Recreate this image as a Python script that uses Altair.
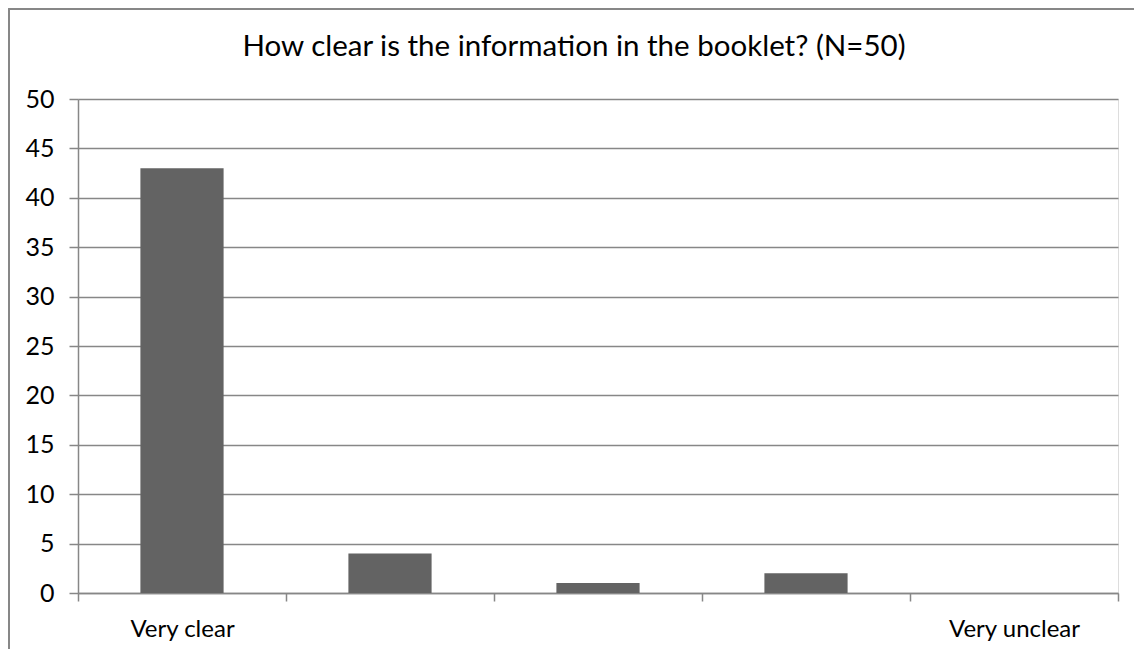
import altair as alt
import pandas as pd

categories = ["Very clear", "Clear", "Neutral", "Unclear", "Very unclear"]
counts = [43, 4, 1, 2, 0]
shown_labels = ["Very clear", "Very unclear"]
y_ticks = [0, 5, 10, 15, 20, 25, 30, 35, 40, 45, 50]
title_text = "How clear is the information in the booklet? (N=50)"

df = pd.DataFrame({"category": categories, "count": counts})

FONT = "Lato"
GRID = "#878787"

W, H = 1040, 494
PAD = {"left": 70, "top": 91, "right": 16, "bottom": 56}

label_expr = "indexof(" + str(shown_labels) + ", datum.label) >= 0 ? datum.label : ''"

bars = alt.Chart(df).mark_bar(
    color="#636363", width=alt.RelativeBandSize(0.4)
).encode(
    x=alt.X(
        "category:N",
        sort=categories,
        scale=alt.Scale(paddingInner=0, paddingOuter=0),
        axis=alt.Axis(
            title=None,
            labelAngle=0,
            labelExpr=label_expr,
            tickBand="extent",
            tickSize=8,
            tickColor=GRID,
            tickWidth=1.5,
            domainColor=GRID,
            domainWidth=1.5,
            labelFont=FONT,
            labelFontSize=24,
            labelColor="#000000",
            labelPadding=16,
            grid=False,
        ),
    ),
    y=alt.Y(
        "count:Q",
        scale=alt.Scale(domain=[0, 50], nice=False),
        axis=alt.Axis(
            title=None,
            values=y_ticks,
            grid=True,
            gridColor=GRID,
            gridWidth=1.5,
            tickSize=9,
            tickColor=GRID,
            tickWidth=1.5,
            domainColor=GRID,
            domainWidth=1.5,
            labelFont=FONT,
            labelFontSize=25,
            labelColor="#000000",
            labelPadding=15,
        ),
    ),
)

frame_top = alt.Chart(df).mark_rule(color=GRID, strokeWidth=2).encode(
    x=alt.value(-PAD["left"] + 0.5),
    x2=alt.value(W + PAD["right"]),
    y=alt.value(-PAD["top"] + 1),
)
frame_left = alt.Chart(df).mark_rule(color=GRID, strokeWidth=2).encode(
    x=alt.value(-PAD["left"] + 1),
    y=alt.value(-PAD["top"] + 1),
    y2=alt.value(H + PAD["bottom"]),
)

title = alt.Chart(pd.DataFrame({"t": [title_text]})).mark_text(
    font=FONT, fontSize=29.5, color="#000000", align="center", baseline="middle"
).encode(
    text="t:N",
    x=alt.value(496),
    y=alt.value(-52),
)

chart = alt.layer(bars, frame_top, frame_left, title).properties(
    width=W,
    height=H,
    autosize=alt.AutoSizeParams(type="none"),
    padding=PAD,
).configure_view(stroke=None).configure(background="white")

chart.save("out.html", embed_options={"renderer": "svg", "actions": False})
